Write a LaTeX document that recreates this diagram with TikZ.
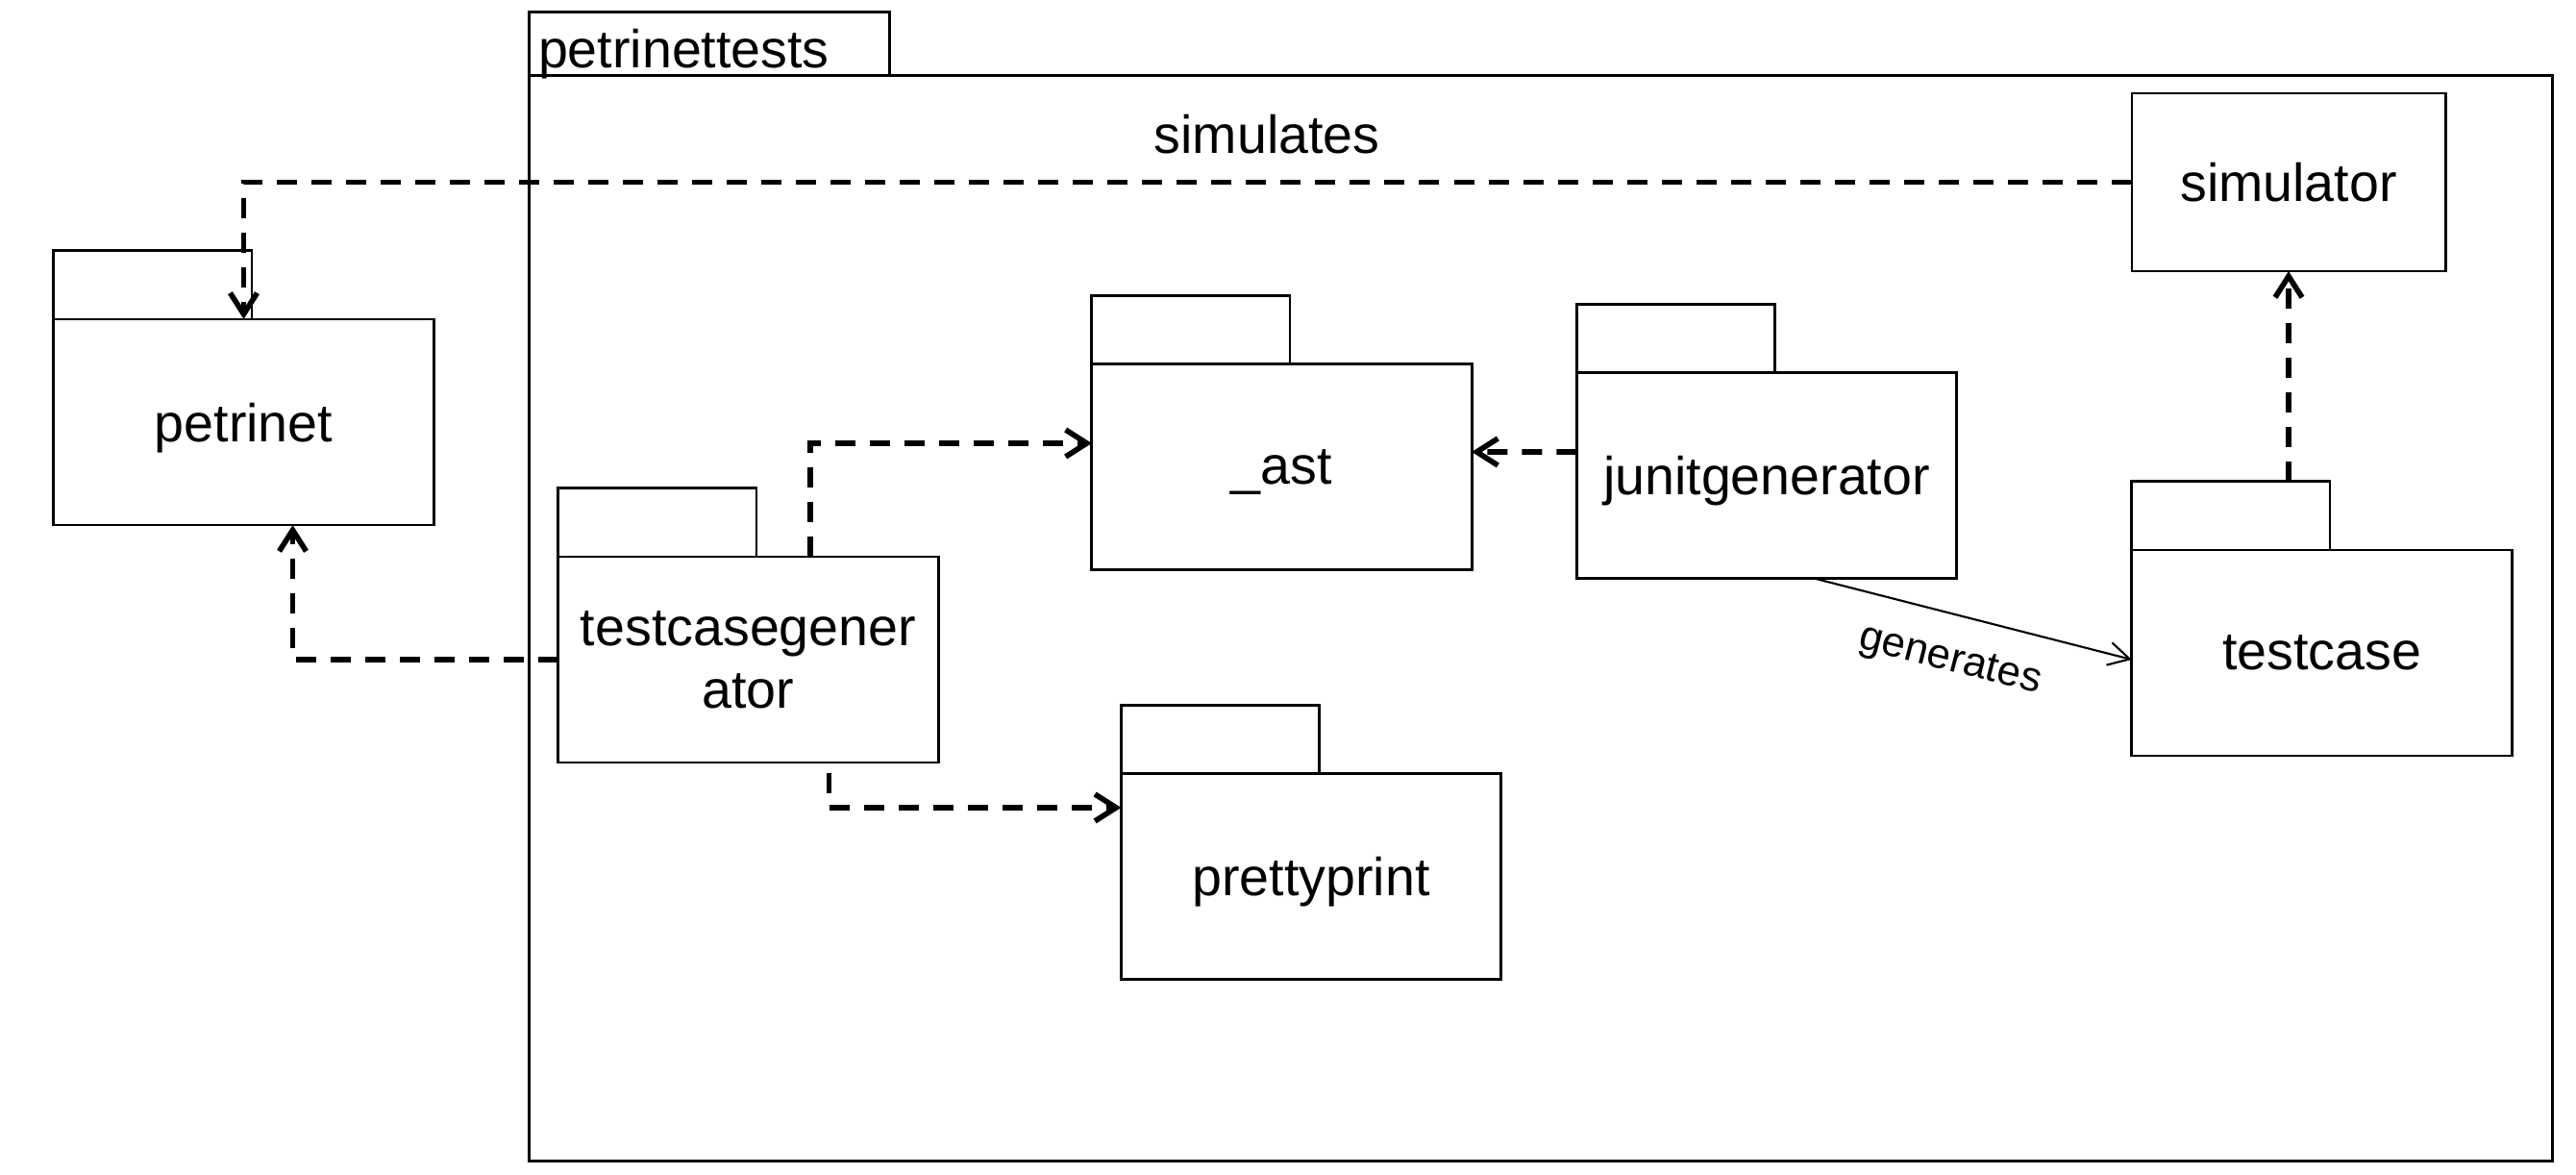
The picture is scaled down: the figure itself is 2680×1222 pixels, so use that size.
\documentclass[tikz,border=0pt]{standalone}
\usepackage{fontspec}
\setmainfont{Liberation Sans}
\usetikzlibrary{arrows.meta,positioning}

\begin{document}
\begin{tikzpicture}[x=0.01cm,y=-0.01cm,font=\fontsize{15.8}{18.5}\selectfont,align=center,
  pkg/.style={draw,line width=0.8pt,minimum width=3.95cm,minimum height=2.14cm,inner sep=0pt,outer sep=0pt,text depth=0pt},
  tabbox/.style={draw,line width=0.8pt,anchor=south west,minimum width=2.06cm,minimum height=0.71cm,inner sep=0pt,outer sep=0pt},
  dep/.style={line width=1.6pt,dash pattern=on 0.21cm off 0.15cm,-{Straight Barb[length=2.2mm,width=2.8mm]}},
  assoc/.style={line width=0.6pt,-{Straight Barb[length=2.2mm,width=2.4mm]}}]
  \useasboundingbox (0,0) rectangle (2680,1222);
  % the outer package
  \node[draw,line width=0.8pt,minimum width=21.04cm,minimum height=11.28cm,inner sep=0pt,outer sep=0pt] (tests) at (1603,643) {};
  \node[tabbox,minimum width=3.75cm,minimum height=0.66cm] (teststab) at (tests.north west) {};
  \node[anchor=base west,inner sep=0pt] (testslabel) at ([shift={(0.09cm,0.08cm)}]teststab.south west) {petrinettests};
  % packages
  \node[pkg] (petrinet) at (253.5,439) {petrinet};
  \node[tabbox] (petrinettab) at (petrinet.north west) {};
  \node[pkg] (tcg) at (778.5,686) {testcasegener\\ator};
  \node[tabbox] (tcgtab) at (tcg.north west) {};
  \node[pkg] (ast) at (1333.5,485.5) {\_ast};
  \node[tabbox] (asttab) at (ast.north west) {};
  \node[pkg] (junit) at (1838,494.5) {junitgenerator};
  \node[tabbox] (junittab) at (junit.north west) {};
  \node[pkg] (pp) at (1364,911.5) {prettyprint};
  \node[tabbox] (pptab) at (pp.north west) {};
  \node[pkg] (testcase) at (2415.5,679) {testcase};
  \node[tabbox] (testcasetab) at (testcase.north west) {};
  \node[draw,line width=0.8pt,minimum width=3.26cm,minimum height=1.85cm,inner sep=0pt,outer sep=0pt] (simulator) at (2381,189.5) {simulator};
  % dependencies
  \draw[dep] (simulator.west) -| node[pos=0.229,above=0.15cm] (simlabel) {simulates} (petrinet.north);
  \draw[dep] (tcg.west) -| ([xshift=0.51cm]petrinet.south);
  \draw[dep] ([xshift=0.645cm]tcg.north) |- ([yshift=0.245cm]ast.west);
  \draw[dep] ([xshift=0.84cm,yshift=-0.11cm]tcg.south) |- ([yshift=0.715cm]pp.west);
  \draw[dep] ([yshift=0.245cm]junit.west) -- ([yshift=0.155cm]ast.east);
  \draw[dep] (simulator.south |- testcasetab.north) -- (simulator.south);
  \draw[assoc] ([xshift=0.495cm]junit.south) -- node[pos=0.464,sloped,below=0.175cm,font=\fontsize{12.4}{14}\selectfont] (genlabel) {generates} ([yshift=-0.07cm]testcase.west);
\end{tikzpicture}
\end{document}
